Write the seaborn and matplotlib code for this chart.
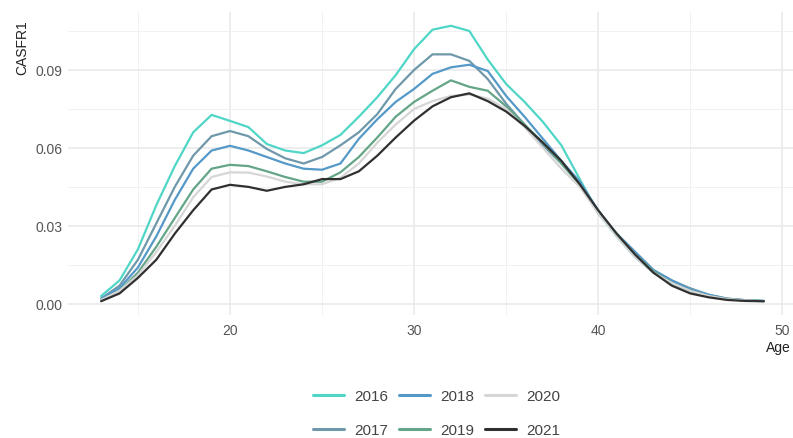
import numpy as np
import pandas as pd
import matplotlib
matplotlib.use("Agg")
import matplotlib.pyplot as plt
import seaborn as sns
from matplotlib.ticker import MultipleLocator

ages = list(range(13, 50))
years = ["2016", "2017", "2018", "2019", "2020", "2021"]

asfr_2016 = [0.003, 0.009, 0.021, 0.038, 0.053, 0.066, 0.0727, 0.0704, 0.068, 0.0615,
             0.059, 0.058, 0.061, 0.065, 0.072, 0.0795, 0.088, 0.098, 0.1055, 0.107,
             0.105, 0.094, 0.0846, 0.0777, 0.070, 0.061, 0.048, 0.035, 0.026, 0.018,
             0.012, 0.008, 0.005, 0.003, 0.0018, 0.0013, 0.0011]
asfr_2017 = [0.002, 0.007, 0.017, 0.031, 0.045, 0.057, 0.0645, 0.0665, 0.0645, 0.0596,
             0.056, 0.054, 0.0565, 0.061, 0.066, 0.073, 0.0827, 0.090, 0.096, 0.096,
             0.0935, 0.0865, 0.077, 0.069, 0.061, 0.054, 0.046, 0.035, 0.027, 0.020,
             0.013, 0.009, 0.006, 0.0035, 0.002, 0.0014, 0.0011]
asfr_2018 = [0.002, 0.006, 0.014, 0.026, 0.040, 0.052, 0.059, 0.0608, 0.059, 0.0565,
             0.054, 0.052, 0.0516, 0.054, 0.0635, 0.071, 0.0777, 0.0827, 0.0885, 0.091,
             0.092, 0.0896, 0.080, 0.072, 0.0635, 0.055, 0.047, 0.036, 0.027, 0.020,
             0.013, 0.009, 0.0055, 0.0035, 0.002, 0.0014, 0.0011]
asfr_2019 = [0.0015, 0.005, 0.012, 0.022, 0.033, 0.044, 0.052, 0.0535, 0.053, 0.051,
             0.0488, 0.047, 0.047, 0.0506, 0.0565, 0.064, 0.072, 0.0777, 0.082, 0.086,
             0.0835, 0.082, 0.076, 0.069, 0.062, 0.054, 0.046, 0.035, 0.027, 0.019,
             0.0125, 0.008, 0.005, 0.003, 0.0018, 0.0013, 0.001]
asfr_2020 = [0.0015, 0.005, 0.011, 0.020, 0.030, 0.041, 0.0488, 0.0506, 0.0505, 0.049,
             0.047, 0.046, 0.046, 0.0485, 0.054, 0.062, 0.069, 0.075, 0.078, 0.080,
             0.0805, 0.079, 0.075, 0.068, 0.060, 0.052, 0.045, 0.035, 0.026, 0.018,
             0.012, 0.008, 0.005, 0.003, 0.0018, 0.0013, 0.001]
asfr_2021 = [0.001, 0.004, 0.010, 0.017, 0.027, 0.036, 0.044, 0.0458, 0.045, 0.0435,
             0.045, 0.046, 0.048, 0.048, 0.051, 0.057, 0.064, 0.0705, 0.076, 0.0795,
             0.081, 0.078, 0.074, 0.0685, 0.062, 0.055, 0.046, 0.036, 0.027, 0.019,
             0.012, 0.007, 0.004, 0.0025, 0.0015, 0.0011, 0.001]

series = [asfr_2016, asfr_2017, asfr_2018, asfr_2019, asfr_2020, asfr_2021]
colors = ["#4fd6c6", "#6f98aa", "#5599c8", "#63a586", "#d6d6d6", "#303030"]

df = pd.DataFrame({
    "Age": ages * len(years),
    "CASFR1": [v for s in series for v in s],
    "Year": [y for y in years for _ in ages],
})

sns.set_theme(style="white")
plt.rcParams["font.family"] = ["Liberation Sans", "DejaVu Sans"]

fig = plt.figure(figsize=(7.93, 4.39), dpi=100)
ax = fig.add_axes([68 / 793, 123 / 439, 729 / 793, 303 / 439])

sns.lineplot(data=df, x="Age", y="CASFR1", hue="Year", hue_order=years,
             palette=colors, linewidth=1.6, ax=ax, legend=False)

ax.set_xlim(11.2, 50.8)
ax.set_ylim(-0.0043, 0.1123)
ax.xaxis.set_major_locator(MultipleLocator(10))
ax.xaxis.set_minor_locator(MultipleLocator(5))
ax.yaxis.set_major_locator(MultipleLocator(0.03))
ax.yaxis.set_minor_locator(MultipleLocator(0.015))
ax.grid(which="major", color="#e8e8e8", linewidth=1.1)
ax.grid(which="minor", color="#f1f1f1", linewidth=0.7)
ax.set_axisbelow(True)
for sp in ax.spines.values():
    sp.set_visible(False)
ax.tick_params(which="both", length=0)
ax.tick_params(axis="x", labelsize=10, labelcolor="#555555", pad=6)
ax.tick_params(axis="y", labelsize=10, labelcolor="#555555", pad=4)
ax.yaxis.set_major_formatter(matplotlib.ticker.FormatStrFormatter("%.2f"))
ax.set_xlabel("")
ax.set_ylabel("")

fig.text(22 / 793, 1 - 20 / 439, "CASFR1", rotation=90, ha="center", va="top",
         fontsize=10, color="#222222")
fig.text(791 / 793, 1 - 348 / 439, "Age", ha="right", va="center",
         fontsize=10, color="#222222")

handles = [matplotlib.lines.Line2D([], [], color=c, linewidth=2.2) for c in colors]
fig.legend(handles, years, loc="center", bbox_to_anchor=(437 / 793, 1 - 414 / 439),
           ncol=3, frameon=False, fontsize=11, handlelength=2.0, handletextpad=0.7,
           columnspacing=0.7, labelspacing=1.3, labelcolor="#444444")

fig.savefig("out.png", dpi=100)
